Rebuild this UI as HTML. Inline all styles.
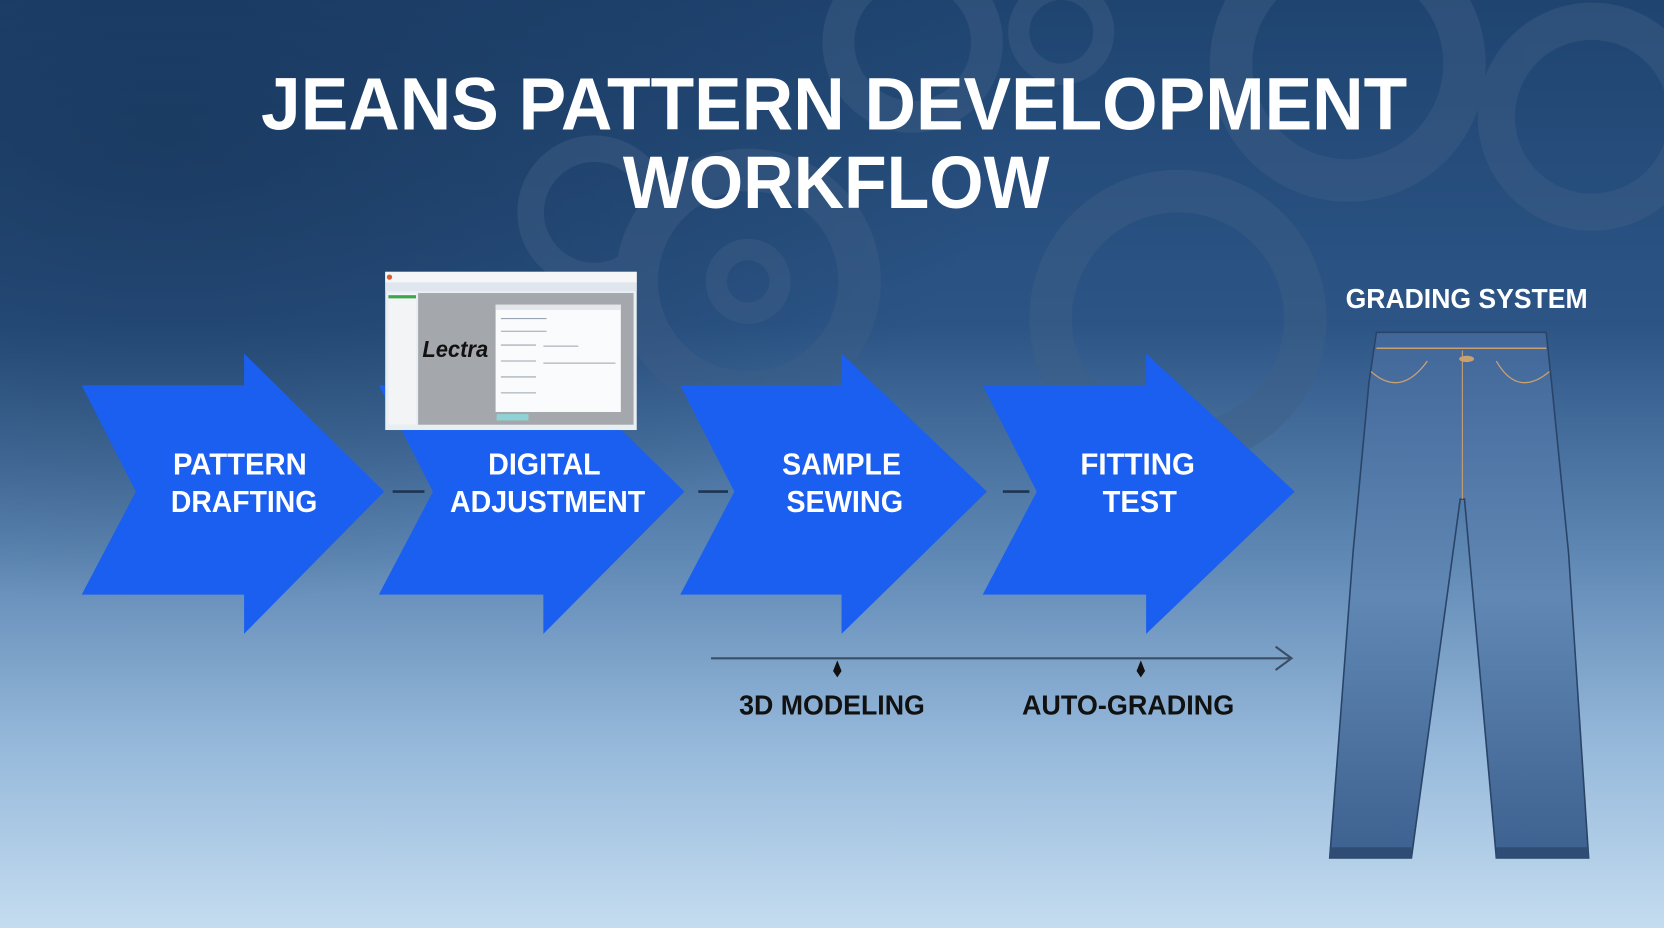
<!DOCTYPE html>
<html><head><meta charset="utf-8"><style>
html,body{margin:0;padding:0;width:1664px;height:928px;overflow:hidden;background:#2a4f7c}
svg{display:block}
text{font-family:"Liberation Sans",sans-serif;font-weight:bold}
</style></head><body>
<svg width="1664" height="928" viewBox="0 0 1568 874" preserveAspectRatio="none">
<defs>
<linearGradient id="bg" x1="0" y1="0" x2="0" y2="1">
<stop offset="0" stop-color="#1f4470"/>
<stop offset="0.35" stop-color="#2c5586"/>
<stop offset="0.6" stop-color="#5f88b4"/>
<stop offset="0.8" stop-color="#95b8da"/>
<stop offset="1" stop-color="#c4dcf0"/>
</linearGradient>
<radialGradient id="dk" cx="0.1" cy="0.15" r="0.5">
<stop offset="0" stop-color="#163458" stop-opacity="0.7"/>
<stop offset="1" stop-color="#163458" stop-opacity="0"/>
</radialGradient>
<linearGradient id="jean" x1="0" y1="0" x2="0" y2="1">
<stop offset="0" stop-color="#41679a"/>
<stop offset="0.5" stop-color="#6188b4"/>
<stop offset="1" stop-color="#3d6190"/>
</linearGradient>
</defs>
<rect width="1568" height="874" fill="url(#bg)"/>
<rect width="1568" height="874" fill="url(#dk)"/>
<!-- gears -->
<g fill="none" stroke="#3f5f86" opacity="0.45">
<circle cx="705" cy="265" r="105" stroke-width="40"/>
<circle cx="705" cy="265" r="30" stroke-width="20"/>
<circle cx="1110" cy="300" r="120" stroke-width="40"/>
<circle cx="1270" cy="60" r="110" stroke-width="40"/>
<circle cx="1500" cy="110" r="90" stroke-width="35"/>
<circle cx="860" cy="40" r="70" stroke-width="30"/>
<circle cx="1000" cy="30" r="40" stroke-width="20"/>
<circle cx="560" cy="200" r="60" stroke-width="25"/>
</g>
<!-- title -->
<text x="786" y="122" font-size="70" fill="#fff" text-anchor="middle" textLength="1080" lengthAdjust="spacingAndGlyphs">JEANS PATTERN DEVELOPMENT</text>
<text x="788" y="196" font-size="70" fill="#fff" text-anchor="middle" textLength="402" lengthAdjust="spacingAndGlyphs">WORKFLOW</text>
<!-- arrows -->
<g fill="#1a5ff0">
<polygon points="77,363 230,363 230,333 362,463 230,597 230,560 77,560 128,463"/>
<polygon points="357,363 512,363 512,333 645,463 512,597 512,560 357,560 408,463"/>
<polygon points="641,363 793,363 793,333 930,463 793,597 793,560 641,560 692,463"/>
<polygon points="926,363 1080,363 1080,333 1220,463 1080,597 1080,560 926,560 977,463"/>
</g>
<g stroke="#1e3552" stroke-width="2.5">
<line x1="370" y1="463" x2="400" y2="463"/>
<line x1="658" y1="463" x2="686" y2="463"/>
<line x1="945" y1="463" x2="970" y2="463"/>
</g>
<g fill="#fff" font-size="29" text-anchor="middle">
<text x="226" y="447" textLength="126" lengthAdjust="spacingAndGlyphs">PATTERN</text>
<text x="230" y="482" textLength="138" lengthAdjust="spacingAndGlyphs">DRAFTING</text>
<text x="513" y="447" textLength="106" lengthAdjust="spacingAndGlyphs">DIGITAL</text>
<text x="516" y="482" textLength="184" lengthAdjust="spacingAndGlyphs">ADJUSTMENT</text>
<text x="793" y="447" textLength="112" lengthAdjust="spacingAndGlyphs">SAMPLE</text>
<text x="796" y="482" textLength="110" lengthAdjust="spacingAndGlyphs">SEWING</text>
<text x="1072" y="447" textLength="108" lengthAdjust="spacingAndGlyphs">FITTING</text>
<text x="1074" y="482" textLength="70" lengthAdjust="spacingAndGlyphs">TEST</text>
</g>
<!-- screenshot -->
<g>
<rect x="363" y="256" width="237" height="149" fill="#e9eef3"/>
<rect x="363" y="256" width="237" height="10" fill="#f4f6f8"/>
<rect x="363" y="266" width="237" height="8" fill="#dfe6ee"/>
<rect x="366" y="276" width="26" height="124" fill="#f2f4f6"/>
<rect x="366" y="278" width="26" height="3" fill="#3aa84a"/>
<rect x="394" y="276" width="203" height="124" fill="#a4a7ab"/>
<rect x="467" y="287" width="118" height="101" fill="#fafbfc"/>
<rect x="467" y="287" width="118" height="5" fill="#e3e7eb"/>
<rect x="468" y="390" width="30" height="6" fill="#8fd3d6"/>
<circle cx="367" cy="261" r="2.5" fill="#e05a2a"/>
<text x="398" y="336" font-size="22" fill="#111" font-style="italic" textLength="62" lengthAdjust="spacingAndGlyphs">Lectra</text>
<g stroke="#9aa4b0" stroke-width="1">
<line x1="472" y1="300" x2="515" y2="300"/><line x1="472" y1="312" x2="515" y2="312"/>
<line x1="472" y1="325" x2="505" y2="325"/><line x1="512" y1="326" x2="545" y2="326"/>
<line x1="472" y1="340" x2="505" y2="340"/><line x1="512" y1="342" x2="580" y2="342"/>
<line x1="472" y1="355" x2="505" y2="355"/><line x1="472" y1="370" x2="505" y2="370"/>
</g>
</g>
<!-- timeline -->
<g stroke="#3a4e66" stroke-width="2" fill="none">
<line x1="670" y1="620" x2="1216" y2="620"/>
<polyline points="1202,609 1217,620 1202,631"/>
</g>
<g fill="#111">
<polygon points="789,622 793,632 789,638 785,632"/>
<polygon points="1075,622 1079,632 1075,638 1071,632"/>
</g>
<text x="784" y="673" font-size="26" fill="#111" text-anchor="middle" textLength="175" lengthAdjust="spacingAndGlyphs">3D MODELING</text>
<text x="1063" y="673" font-size="26" fill="#111" text-anchor="middle" textLength="200" lengthAdjust="spacingAndGlyphs">AUTO-GRADING</text>
<text x="1382" y="290" font-size="26" fill="#fff" text-anchor="middle" textLength="228" lengthAdjust="spacingAndGlyphs">GRADING SYSTEM</text>
<!-- jeans -->
<path d="M1297,313 L1457,313 L1462,360 L1478,520 L1497,808 L1410,808 L1380,470 L1376,470 L1330,808 L1253,808 L1275,520 L1290,360 Z" fill="url(#jean)" stroke="#2a4468" stroke-width="1.5"/>
<path d="M1297,328 L1457,328" stroke="#c9a070" stroke-width="1.5"/>
<path d="M1378,330 L1378,470" stroke="#c9a070" stroke-width="1"/>
<path d="M1292,350 Q1320,375 1345,340" stroke="#c9a070" stroke-width="1.2" fill="none"/>
<path d="M1460,350 Q1430,375 1410,340" stroke="#c9a070" stroke-width="1.2" fill="none"/>
<ellipse cx="1382" cy="338" rx="7" ry="3" fill="#c9a070"/>
<rect x="1253" y="798" width="77" height="10" fill="#2e4c74"/>
<rect x="1410" y="798" width="87" height="10" fill="#2e4c74"/>
</svg>
</body></html>
